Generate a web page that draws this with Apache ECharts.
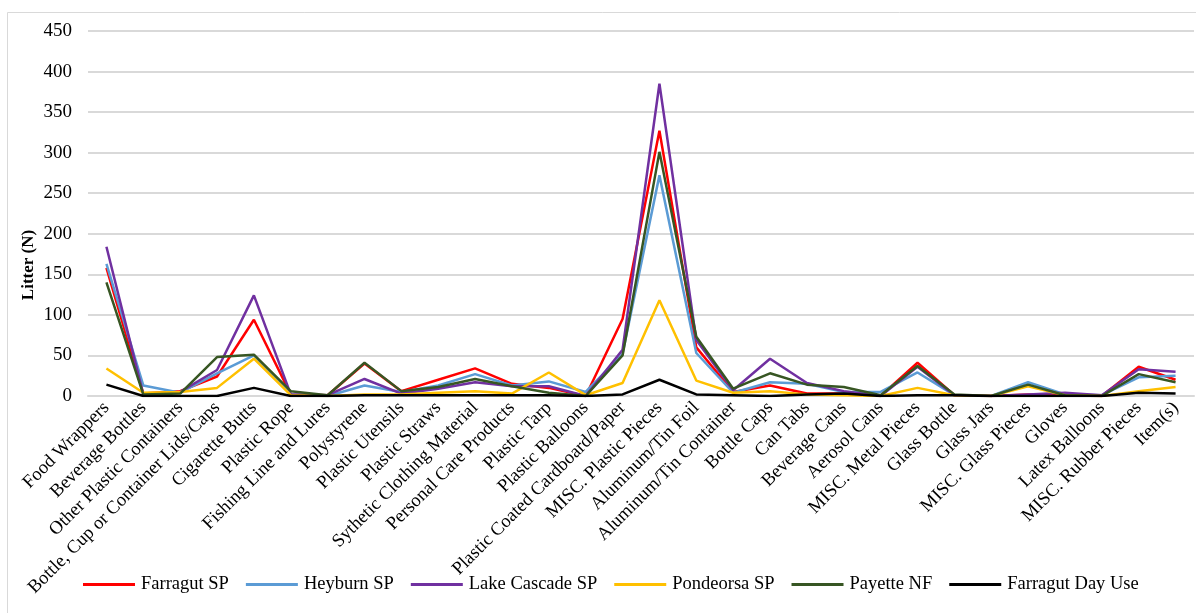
<!DOCTYPE html>
<html>
<head>
<meta charset="utf-8">
<script src="https://cdn.jsdelivr.net/npm/echarts@6/dist/echarts.min.js"></script>
<style>
  html, body { margin: 0; padding: 0; background: #fff; }
  #chart { width: 1196px; height: 613px; }
</style>
</head>
<body>
<div id="chart"></div>
<script>
// Litter item categories along the x axis
const categories = [
  'Food Wrappers', 'Beverage Bottles', 'Other Plastic Containers',
  'Bottle, Cup or Container Lids/Caps', 'Cigarette Butts', 'Plastic Rope',
  'Fishing Line and Lures', 'Polystyrene', 'Plastic Utensils', 'Plastic Straws',
  'Sythetic Clothing Material', 'Personal Care Products', 'Plastic Tarp',
  'Plastic Balloons', 'Plastic Coated Cardboard/Paper', 'MISC. Plastic Pieces',
  'Aluminum/Tin Foil', 'Aluminum/Tin Container', 'Bottle Caps', 'Can Tabs',
  'Beverage Cans', 'Aerosol Cans', 'MISC. Metal Pieces', 'Glass Bottle',
  'Glass Jars', 'MISC. Glass Pieces', 'Gloves', 'Latex Balloons',
  'MISC. Rubber Pieces', 'Item(s)'
];

// Litter counts per site
const farragutSP = [158, 3, 6, 24, 94, 2, 1, 40, 6, 20, 34, 15, 10, 0, 95, 327, 60, 5, 13, 3, 3, 0, 41, 1, 0, 2, 1, 0, 36, 20];
const heyburnSP = [163, 13, 4, 28, 50, 2, 0, 13, 5, 13, 27, 13, 18, 5, 52, 272, 53, 4, 17, 15, 5, 5, 29, 1, 0, 17, 2, 1, 23, 25];
const lakeCascadeSP = [184, 2, 5, 32, 124, 2, 1, 21, 3, 9, 17, 12, 12, 0, 57, 385, 69, 7, 46, 16, 6, 0, 36, 1, 0, 2, 4, 1, 33, 30];
const pondeorsaSP = [34, 4, 5, 10, 46, 1, 0, 2, 2, 4, 6, 3, 29, 1, 16, 118, 19, 4, 6, 2, 1, 0, 10, 1, 0, 12, 1, 0, 6, 11];
const payetteNF = [140, 2, 3, 48, 51, 6, 1, 41, 6, 11, 21, 12, 4, 0, 50, 301, 73, 9, 28, 14, 11, 1, 37, 2, 0, 14, 1, 0, 27, 17];
const farragutDayUse = [14, 0, 0, 0, 10, 0, 0, 1, 1, 1, 1, 1, 1, 0, 2, 20, 2, 1, 0, 2, 3, 0, 1, 1, 0, 0, 0, 0, 4, 3];

// Value axis ticks
const yMin = 0, yMax = 450, yStep = 50;

const seriesDefs = [
  { name: 'Farragut SP', data: farragutSP, color: '#FF0000' },
  { name: 'Heyburn SP', data: heyburnSP, color: '#5B9BD5' },
  { name: 'Lake Cascade SP', data: lakeCascadeSP, color: '#7030A0' },
  { name: 'Pondeorsa SP', data: pondeorsaSP, color: '#FFC000' },
  { name: 'Payette NF', data: payetteNF, color: '#375623' },
  { name: 'Farragut Day Use', data: farragutDayUse, color: '#000000' }
];

const font = '"Liberation Serif", "Times New Roman", serif';
const chart = echarts.init(document.getElementById('chart'), null, { renderer: 'canvas' });

chart.setOption({
  animation: false,
  backgroundColor: '#ffffff',
  textStyle: { fontFamily: font, color: '#000' },
  grid: { left: 88, right: 2, top: 31, bottom: 217, containLabel: false },
  graphic: [
    {
      type: 'rect',
      left: 5, top: 10,
      shape: { width: 1190, height: 601 },
      style: { fill: 'none', stroke: '#D9D9D9', lineWidth: 1 },
      silent: true, z: -1
    },
    {
      type: 'text',
      x: 29, y: 265,
      rotation: Math.PI / 2,
      style: {
        text: 'Litter (N)',
        font: 'bold 17px ' + font,
        fill: '#000',
        align: 'center',
        verticalAlign: 'middle'
      }
    }
  ],
  legend: {
    left: 78,
    top: 570,
    icon: 'rect',
    itemWidth: 52,
    itemHeight: 3,
    itemGap: 17,
    textStyle: { fontFamily: font, fontSize: 18.5, color: '#000', padding: [0, 0, 0, 1] },
    data: seriesDefs.map(s => s.name)
  },
  xAxis: {
    type: 'category',
    data: categories,
    boundaryGap: true,
    axisLine: { show: true, lineStyle: { color: '#D9D9D9', width: 2 } },
    axisTick: { show: false },
    axisLabel: {
      interval: 0,
      rotate: 45,
      margin: 9,
      fontFamily: font,
      fontSize: 18.5,
      color: '#000'
    }
  },
  yAxis: {
    type: 'value',
    min: yMin,
    max: yMax,
    interval: yStep,
    axisLine: { show: false },
    axisTick: { show: false },
    splitLine: { lineStyle: { color: '#D9D9D9', width: 2 } },
    axisLabel: { margin: 16, fontFamily: font, fontSize: 19, color: '#000' }
  },
  series: seriesDefs.map(s => ({
    name: s.name,
    type: 'line',
    data: s.data,
    symbol: 'none',
    smooth: false,
    color: s.color,
    lineStyle: { color: s.color, width: 2.5 }
  }))
});
</script>
</body>
</html>
